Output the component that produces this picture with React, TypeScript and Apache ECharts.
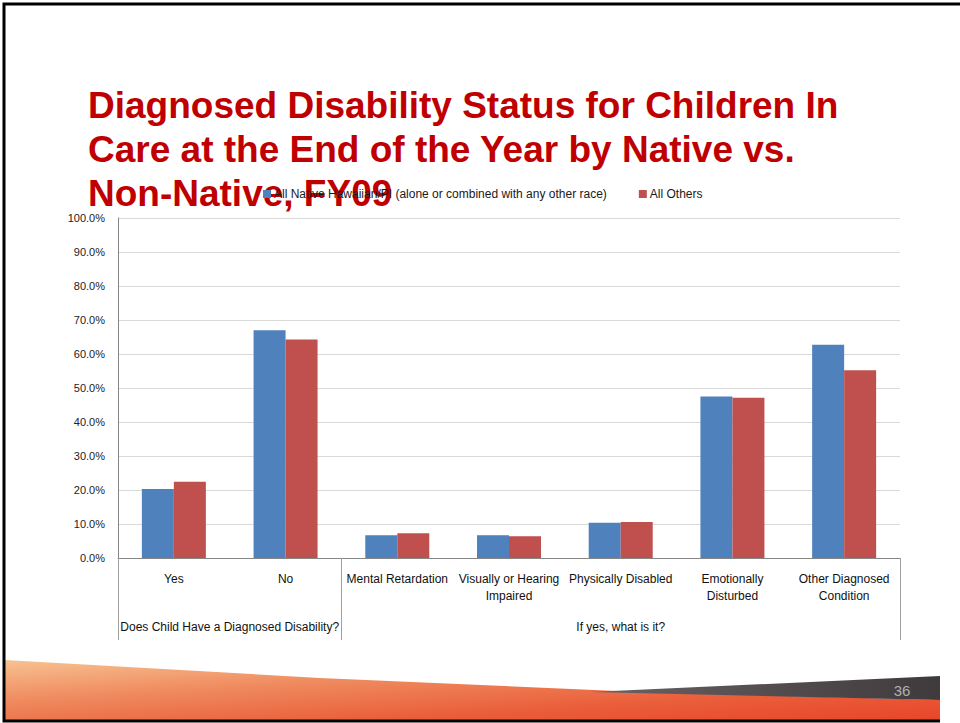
import React, { useEffect, useRef } from "react";
import * as echarts from "echarts";

const categories = [
  "Yes",
  "No",
  "Mental Retardation",
  "Visually or Hearing\nImpaired",
  "Physically Disabled",
  "Emotionally\nDisturbed",
  "Other Diagnosed\nCondition",
];
const groups = [
  { name: "Does Child Have a Diagnosed Disability?", start: 0, count: 2 },
  { name: "If yes, what is it?", start: 2, count: 5 },
];
const seriesNames = [
  "All Native Hawaiian/PI (alone or combined with any other race)",
  "All Others",
];
const nativeValues = [20.3, 67.0, 6.7, 6.7, 10.4, 47.5, 62.7];
const otherValues = [22.4, 64.3, 7.3, 6.4, 10.6, 47.1, 55.2];
const yTicks = { min: 0, max: 100, interval: 10 };
const titleText =
  "Diagnosed Disability Status for Children In\nCare at the End of the Year by Native vs.\nNon-Native, FY09";
const slideNumber = "36";

export default function App() {
  const ref = useRef<HTMLDivElement>(null);
  useEffect(() => {
    if (!ref.current) return;
    const chart = echarts.init(ref.current, null, { renderer: "svg" });
    const groupStarts = groups.map((g) => g.start);
    const font = "Liberation Sans";
    chart.setOption({
      animation: false,
      backgroundColor: "#ffffff",
      title: {
        text: titleText,
        left: 83,
        top: 78,
        z: 1,
        textStyle: {
          fontFamily: font,
          fontWeight: "bold",
          fontSize: 37,
          lineHeight: 44,
          color: "#C00000",
        },
      },
      legend: {
        data: seriesNames,
        left: 258,
        top: 183,
        z: 10,
        itemWidth: 8,
        itemHeight: 8,
        itemGap: 32,
        icon: "rect",
        textStyle: { fontFamily: font, fontSize: 12, color: "#1a1a1a", padding: [0, 0, 0, -2] },
      },
      grid: { left: 118, right: 60, top: 218, bottom: 165, containLabel: false },
      xAxis: [
        {
          type: "category",
          data: categories,
          axisLine: { show: true, lineStyle: { color: "#868686", width: 1 } },
          axisTick: {
            show: true,
            interval: (i: number) => groupStarts.includes(i),
            length: 82,
            lineStyle: { color: "#a0a0a0" },
          },
          axisLabel: {
            interval: 0,
            fontFamily: font,
            fontSize: 12,
            lineHeight: 17,
            margin: 12,
            color: "#111",
          },
        },
        {
          type: "value",
          position: "bottom",
          min: 0,
          max: categories.length * 2,
          interval: 1,
          axisLine: { show: false },
          axisTick: { show: false },
          splitLine: { show: false },
          axisLabel: {
            margin: 63,
            fontFamily: font,
            fontSize: 12,
            color: "#111",
            formatter: (v: number) => {
              const g = groups.find((gr) => gr.start * 2 + gr.count === v);
              return g ? g.name : "";
            },
          },
        },
      ],
      yAxis: {
        type: "value",
        min: yTicks.min,
        max: yTicks.max,
        interval: yTicks.interval,
        axisLine: { show: true, lineStyle: { color: "#868686" } },
        axisTick: { show: false },
        splitLine: { lineStyle: { color: "#D9D9D9" } },
        axisLabel: {
          fontFamily: font,
          fontSize: 11,
          color: "#222",
          margin: 13,
          formatter: (v: number) => v.toFixed(1) + "%",
        },
      },
      series: [
        {
          name: seriesNames[0],
          type: "bar",
          data: nativeValues,
          barWidth: 32,
          barGap: "0%",
          itemStyle: { color: "#4F81BD" },
        },
        {
          name: seriesNames[1],
          type: "bar",
          data: otherValues,
          barWidth: 32,
          barGap: "0%",
          itemStyle: { color: "#C0504D" },
        },
      ],
      graphic: [
        {
          type: "polygon",
          z: -1,
          silent: true,
          shape: {
            points: [
              [5, 660],
              [320, 678],
              [640, 692],
              [940, 700],
              [940, 720],
              [5, 720],
            ],
          },
          style: {
            fill: new echarts.graphic.LinearGradient(0, 0, 1, 1, [
              { offset: 0, color: "#F8C292" },
              { offset: 0.35, color: "#EF8A5E" },
              { offset: 0.7, color: "#EA5E3A" },
              { offset: 1, color: "#E8452B" },
            ]),
          },
        },
        {
          type: "polygon",
          z: -1,
          silent: true,
          shape: {
            points: [
              [590, 692],
              [940, 676],
              [940, 700],
            ],
          },
          style: {
            fill: new echarts.graphic.LinearGradient(0, 0, 1, 0, [
              { offset: 0, color: "#6a6264" },
              { offset: 1, color: "#3f3a3c" },
            ]),
          },
        },
        {
          type: "text",
          silent: true,
          x: 902,
          y: 690,
          style: {
            text: slideNumber,
            fontFamily: font,
            fontSize: 15,
            fill: "#b0b0b0",
            align: "center",
            verticalAlign: "middle",
          },
        },
        {
          type: "polyline",
          silent: true,
          shape: {
            points: [
              [960, 4],
              [4, 4],
              [4, 721],
              [940, 721],
            ],
          },
          style: { stroke: "#000", lineWidth: 3, fill: null },
        },
      ],
    });
    return () => chart.dispose();
  }, []);
  return (
    <div
      ref={ref}
      style={{ position: "fixed", left: 0, top: 0, width: 960, height: 723 }}
    />
  );
}
